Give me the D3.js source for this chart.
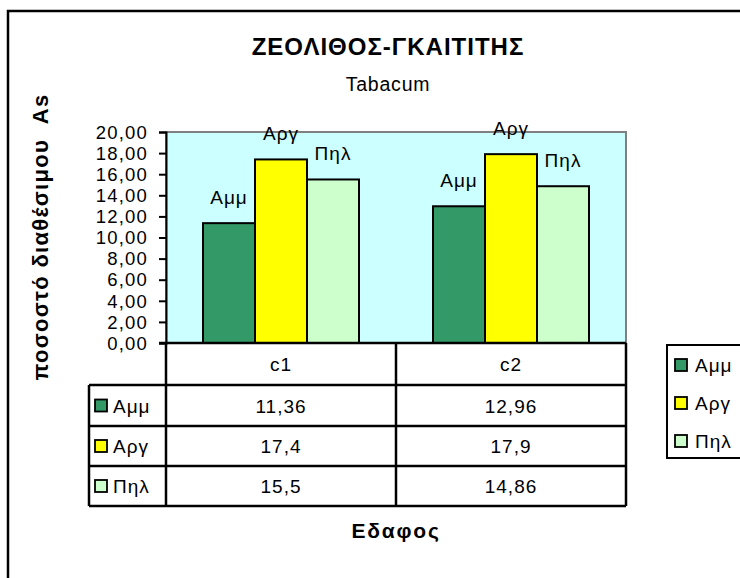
<!DOCTYPE html>
<html><head><meta charset="utf-8">
<script src="https://cdn.jsdelivr.net/npm/d3@7"></script>
<style>
body{margin:0;background:#fff;}
svg{display:block;font-family:"Liberation Sans",Arial,sans-serif;}
</style></head>
<body><svg id="c" width="740" height="578"></svg>
<script>
const categories = ["c1", "c2"];
const seriesNames = ["Αμμ", "Αργ", "Πηλ"];
const valuesAmm = [11.36, 12.96];
const valuesArg = [17.4, 17.9];
const valuesPil = [15.5, 14.86];
const tableLabels = [["11,36", "12,96"], ["17,4", "17,9"], ["15,5", "14,86"]];
const yTicks = [0, 2, 4, 6, 8, 10, 12, 14, 16, 18, 20];
const colors = ["#339966", "#FFFF00", "#CCFFCC"];
const title = "ΖΕΟΛΙΘΟΣ-ΓΚΑΙΤΙΤΗΣ";
const subtitle = "Tabacum";
const yTitle = "ποσοστό διαθέσιμου  As";
const xTitle = "Εδαφος";

const seriesValues = [valuesAmm, valuesArg, valuesPil];
const svg = d3.select("#c");
const L = 166, R = 626, T = 132, B = 343;
const fmt = d3.formatLocale({decimal: ",", thousands: ".", grouping: [3], currency: ["", ""]}).format(".2f");

// outer frame
svg.append("path").attr("d", "M8,600 L8,11 L760,11").attr("fill", "none").attr("stroke", "#000").attr("stroke-width", 2.5);

const x = d3.scaleBand().domain(categories).range([L, R]);
const bw = 52;
const xs = d3.scaleBand().domain(seriesNames).range([(x.bandwidth() - 3 * bw) / 2, (x.bandwidth() + 3 * bw) / 2]);
const y = d3.scaleLinear().domain([0, 20]).range([B, T]);

// plot area
svg.append("rect").attr("x", L).attr("y", T).attr("width", R - L).attr("height", B - T)
  .attr("fill", "#CCFFFF").attr("stroke", "#808080").attr("stroke-width", 2);

// bars
seriesNames.forEach((s, si) => {
  const g = svg.append("g");
  g.selectAll("rect").data(categories).join("rect")
    .attr("x", (c) => x(c) + xs(s))
    .attr("y", (c, i) => y(seriesValues[si][i]))
    .attr("width", xs.bandwidth())
    .attr("height", (c, i) => B - y(seriesValues[si][i]))
    .attr("fill", colors[si]).attr("stroke", "#000").attr("stroke-width", 2);
  g.selectAll("text").data(categories).join("text")
    .attr("x", (c) => x(c) + xs(s) + xs.bandwidth() / 2)
    .attr("y", (c, i) => y(seriesValues[si][i]) - 19)
    .attr("text-anchor", "middle").attr("font-size", 19).attr("letter-spacing", 1)
    .text(s);
});

// y axis
const yAxis = d3.axisLeft(y).tickValues(yTicks).tickSize(7).tickPadding(11).tickFormat(fmt);
const ya = svg.append("g").attr("transform", `translate(${L},0)`).call(yAxis);
ya.select(".domain").attr("stroke", "#000").attr("stroke-width", 2);
ya.selectAll(".tick line").attr("stroke", "#000").attr("stroke-width", 2);
ya.selectAll(".tick text").attr("font-size", 18.5).attr("letter-spacing", 1.2).attr("fill", "#000")
  .attr("font-family", "Liberation Sans, Arial, sans-serif").attr("dy", "0.34em");

// data table
const rowY = [343, 385, 426, 466, 506];
const tl = 89;
const tg = svg.append("g").attr("stroke", "#000").attr("stroke-width", 2.5);
tg.append("line").attr("x1", L - 7).attr("x2", R).attr("y1", B).attr("y2", B);
rowY.slice(1).forEach((ry) => tg.append("line").attr("x1", tl).attr("x2", R).attr("y1", ry).attr("y2", ry));
tg.append("line").attr("x1", tl).attr("x2", tl).attr("y1", rowY[1]).attr("y2", rowY[4]);
[L, x("c2"), R].forEach((vx) => tg.append("line").attr("x1", vx).attr("x2", vx).attr("y1", B).attr("y2", rowY[4]));

svg.selectAll(".cat").data(categories).join("text")
  .attr("x", (c) => x(c) + x.bandwidth() / 2).attr("y", (rowY[0] + rowY[1]) / 2 + 7)
  .attr("text-anchor", "middle").attr("font-size", 19).attr("letter-spacing", 1).text((c) => c);

seriesNames.forEach((s, si) => {
  const cy = (rowY[si + 1] + rowY[si + 2]) / 2;
  svg.append("rect").attr("x", 95).attr("y", cy - 6).attr("width", 12).attr("height", 12)
    .attr("fill", colors[si]).attr("stroke", "#000").attr("stroke-width", 1.8);
  svg.append("text").attr("x", 113).attr("y", cy + 7).attr("font-size", 19).attr("letter-spacing", 1).text(s);
  categories.forEach((c, ci) => {
    svg.append("text").attr("x", x(c) + x.bandwidth() / 2).attr("y", cy + 7)
      .attr("text-anchor", "middle").attr("font-size", 19).attr("letter-spacing", 1)
      .text(tableLabels[si][ci]);
  });
});

// legend
svg.append("rect").attr("x", 667).attr("y", 345).attr("width", 120).attr("height", 113)
  .attr("fill", "#fff").attr("stroke", "#000").attr("stroke-width", 2);
seriesNames.forEach((s, si) => {
  const cy = 365 + si * 38;
  svg.append("rect").attr("x", 675).attr("y", cy - 6).attr("width", 12).attr("height", 12)
    .attr("fill", colors[si]).attr("stroke", "#000").attr("stroke-width", 1.8);
  svg.append("text").attr("x", 695).attr("y", cy + 7).attr("font-size", 19).attr("letter-spacing", 1).text(s);
});

// titles
svg.append("text").attr("x", 388).attr("y", 55).attr("text-anchor", "middle")
  .attr("font-size", 24).attr("font-weight", "bold").attr("letter-spacing", 1).text(title);
svg.append("text").attr("x", 388).attr("y", 91).attr("text-anchor", "middle")
  .attr("font-size", 19.5).attr("letter-spacing", 0.8).text(subtitle);
svg.append("text").attr("transform", "translate(48,237) rotate(-90)").attr("text-anchor", "middle")
  .attr("font-size", 22).attr("font-weight", "bold").attr("letter-spacing", 1.3).style("white-space", "pre").text(yTitle);
svg.append("text").attr("x", 396).attr("y", 538).attr("text-anchor", "middle")
  .attr("font-size", 21).attr("font-weight", "bold").attr("letter-spacing", 1.8).text(xTitle);
</script></body></html>
